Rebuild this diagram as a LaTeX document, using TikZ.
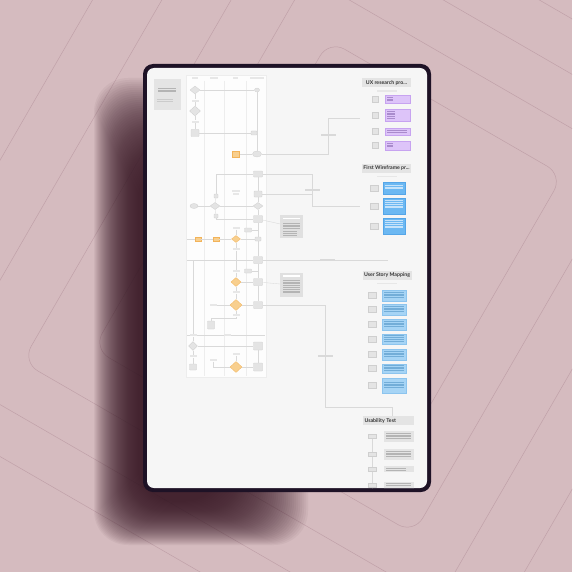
\documentclass[tikz,border=0pt]{standalone}
\usepackage{fontspec}
\setmainfont{Lato}
\usetikzlibrary{shapes.geometric}
\definecolor{bgc}{HTML}{D5BBBF}
\definecolor{bgl}{HTML}{C0A1A8}
\definecolor{shadc}{HTML}{3A1A27}
\definecolor{framec}{HTML}{1E1226}
\definecolor{screenc}{HTML}{F6F6F6}
\definecolor{panelc}{HTML}{FDFDFD}
\definecolor{lanec}{HTML}{EDEDED}
\definecolor{connc}{HTML}{D9D9D9}
\definecolor{gfill}{HTML}{E4E4E4}
\definecolor{gline}{HTML}{CFCFCF}
\definecolor{notef}{HTML}{E0E0E0}
\definecolor{ofill}{HTML}{F8CF8E}
\definecolor{oline}{HTML}{F2B35A}
\definecolor{labc}{HTML}{E7E7E7}
\definecolor{purf}{HTML}{DDC4F9}
\definecolor{purl}{HTML}{C7A3F0}
\definecolor{purt}{HTML}{A98BCC}
\definecolor{bluef}{HTML}{6CB8F2}
\definecolor{bluel}{HTML}{55A6E8}
\definecolor{bluet}{HTML}{C6E3FA}
\definecolor{lbluef}{HTML}{A6D4F5}
\definecolor{lbluel}{HTML}{8CC4EE}
\definecolor{lbluet}{HTML}{72ADD8}
\definecolor{hdrf}{HTML}{E4E4E4}
\definecolor{txtc}{HTML}{B4B4B4}
\newcommand{\tlines}[5]{\foreach \k in {1,...,#4}{\draw[#5] (#1,{#2+(\k-1)*1.8}) -- ++(#3,0);}}
\begin{document}
\begin{tikzpicture}[x=1pt,y=-1pt,
  gbox/.style={draw=gline, fill=gfill, line width=0.3pt, inner sep=0pt, rounded corners=0.6pt, minimum width=8pt, minimum height=6pt},
  gdia/.style={diamond, draw=gline, fill=gfill, line width=0.3pt, inner sep=0pt, minimum width=10pt, minimum height=8pt},
  gell/.style={ellipse, draw=gline, fill=gfill, line width=0.3pt, inner sep=0pt, minimum width=8pt, minimum height=5pt},
  obox/.style={draw=oline, fill=ofill, line width=0.3pt, inner sep=0pt, minimum width=6pt, minimum height=4.5pt},
  odia/.style={diamond, draw=oline, fill=ofill, line width=0.3pt, inner sep=0pt, minimum width=11pt, minimum height=10pt},
  lab/.style={fill=labc, inner sep=0pt, minimum width=7pt, minimum height=2.6pt},
  conn/.style={draw=connc, line width=0.35pt},
  lanel/.style={draw=lanec, line width=0.3pt},
  notebox/.style={fill=notef, inner sep=0pt, minimum width=23pt, minimum height=23pt},
  hdr/.style={fill=hdrf, inner sep=0pt, minimum height=9pt, minimum width=49pt, font=\fontsize{5.2}{6}\selectfont\bfseries, text=black!80},
  sbox/.style={fill=gfill, draw=gline, line width=0.25pt, inner sep=0pt, minimum width=7pt, minimum height=6pt},
  tb/.style={draw=txtc, line width=0.5pt},
  purbox/.style={fill=purf, draw=purl, line width=0.3pt, inner sep=0pt, minimum width=25pt},
  bluebox/.style={fill=bluef, draw=bluel, line width=0.3pt, inner sep=0pt, minimum width=22pt},
  lbluebox/.style={fill=lbluef, draw=lbluel, line width=0.3pt, inner sep=0pt, minimum width=24pt},
  ubox/.style={fill=gfill, inner sep=0pt, minimum width=30pt},
]
\useasboundingbox (0,0) rectangle (572,572);
\fill[bgc] (0,0) rectangle (572,572);
% background rotated outlines
\begin{scope}
\clip (0,0) rectangle (572,572);
\foreach \hm/\hn in {135/170, 185/215, 240/262, 300/310, 360/355}{
  \draw[bgl, line width=0.5pt, rounded corners=18, rotate around={-30:(361,255)}] ({361-\hm},{255-\hn}) rectangle ({361+\hm},{255+\hn});
}
\end{scope}
% shadow (soft, layered)
\foreach \i in {0,...,44}{
  \fill[shadc, opacity=0.048, rounded corners=34] ({94+\i*1.0},{78+\i*2.0}) rectangle ({308-\i*2.0},{545-\i*1.0});
}
% tablet
\fill[framec, rounded corners=10] (143,64) rectangle (431,492);
\fill[screenc, rounded corners=7] (147,68) rectangle (427,488);
\begin{scope}
\clip[rounded corners=7] (147,68) rectangle (427,488);
% intro note
\node[fill=gfill, inner sep=0pt, minimum width=27pt, minimum height=31pt] (intro) at (167,95) {};
\tlines{158}{88}{18}{3}{tb}
\tlines{157}{99}{16}{2}{tb, draw=txtc!70}
% flow panel
\fill[panelc, draw=lanec, line width=0.3pt] (186,75) rectangle (266,377);
\node[lab, minimum width=6pt] (hd1) at (195,78) {};
\node[lab, minimum width=8pt] (hd2) at (214,78) {};
\node[lab, minimum width=5pt] (hd3) at (235,78) {};
\node[lab, minimum width=14pt] (hd4) at (257,78) {};
\foreach \xx in {204,224,246}{\draw[lanel] (\xx,81) -- (\xx,376);}
% lane 1 top
\node[gdia] (a1) at (195,90) {};
\node[lab] (a1l) at (195,101) {};
\node[gdia, minimum width=11pt, minimum height=10pt] (a2) at (195,111) {};
\node[lab] (a2l) at (195,122) {};
\node[gbox, minimum height=7pt] (a3) at (195,133) {};
\node[gell, minimum width=5pt, minimum height=4pt] (d1) at (257,90) {};
\node[gbox, minimum width=6pt, minimum height=4pt] (d2) at (254,133) {};
\node[gell, minimum width=9pt, minimum height=6pt] (d3) at (257,154) {};
\node[obox, minimum width=7pt, minimum height=6pt] (o1) at (236,154) {};
\draw[conn] (a1) -- (d1);
\draw[conn] (a1) -- (a1l) -- (a2) -- (a2l) -- (a3);
\draw[conn] (a3) -- (d2);
\draw[conn] (d1) -- (d3);
\draw[conn] (o1) -- (d3);
\coordinate (ux1) at (328,154);
\coordinate (ux2) at (328,118);
\coordinate (uxin) at (360,118);
\draw[conn] (d3) -- (ux1) -- (ux2) -- (uxin);
\node[lab, minimum width=15pt, minimum height=1.2pt, fill=txtc!50] (uxl) at (328,135) {};
% middle rows
\node[gbox, minimum width=9pt] (e1) at (258,174) {};
\coordinate (e1l) at (216,174);
\draw[conn] (e1l) -- (e1);
\node[gbox, minimum width=4pt, minimum height=4pt] (f2t) at (216,196) {};
\draw[conn] (e1l) -- (f2t);
\node[gbox] (e2) at (258,194) {};
\node[lab, minimum width=8pt] (e2l) at (236,191) {};
\node[lab, minimum width=6pt] (e2m) at (236,194) {};
\node[gell] (f1) at (194,206) {};
\node[gdia, minimum height=7pt] (f2) at (215,206) {};
\node[gdia, minimum height=7pt] (f3) at (258,206) {};
\draw[conn] (f1) -- (f2) -- (f3);
\draw[conn] (f2t) -- (f2);
\node[gbox, minimum width=4pt, minimum height=4pt] (f2b) at (216,216) {};
\draw[conn] (f2) -- (f2b);
\node[gbox, minimum width=9pt, minimum height=7pt] (g1) at (258,219) {};
\draw[conn] (f2b) |- (g1);
\draw[conn] (e1) -- (e2) -- (f3) -- (g1);
\coordinate (fw1) at (312,174);
\coordinate (fw2) at (312,206);
\coordinate (fwin) at (360,206);
\coordinate (fw3) at (312,194);
\draw[conn] (e1) -- (fw1) -- (fw2) -- (fwin);
\draw[conn] (e2) -- (fw3);
\node[lab, minimum width=15pt, minimum height=1.2pt, fill=txtc!50] (fwl) at (312,190) {};
% note 1
\node[notebox] (n1) at (291.5,226.5) {};
\draw[white, line width=1.2pt] (283,218.5) -- (300,218.5);
\tlines{283}{223}{17}{4}{tb}
\tlines{283}{231.5}{14}{3}{tb}
\draw[conn] (g1) -- (n1);
% row 228 - 249
\node[lab] (r228) at (236,228) {};
\node[gbox, minimum width=7pt, minimum height=4pt] (s228) at (248,230) {};
\node[obox] (h1) at (198,239) {};
\node[obox] (h2) at (216,239) {};
\node[odia, minimum width=9pt, minimum height=7pt] (h3) at (236,239) {};
\node[gbox, minimum width=6pt, minimum height=4pt] (h4) at (258,239) {};
\coordinate (hl) at (187,239);
\draw[conn] (hl) -- (h1) -- (h2) -- (h3) -- (h4);
\draw[conn] (r228) -- (h3);
\draw[conn] (s228) -| (h4);
\draw[conn] (g1) -- (h4);
\node[lab] (r249) at (236,249) {};
\draw[conn] (h3) -- (r249);
% row 260
\node[gbox, minimum width=9pt, minimum height=7pt] (i1) at (258,260) {};
\coordinate (il) at (187,260);
\coordinate (ir) at (388,260);
\draw[conn] (il) -- (i1);
\draw[conn] (h4) -- (i1);
\draw[conn] (i1) -- (ir);
\node[lab, minimum width=15pt, minimum height=1.2pt, fill=txtc!50] (irl) at (327,260) {};
% row 271 - 292
\node[lab] (r271) at (236,271) {};
\node[gbox, minimum width=7pt, minimum height=4pt] (s271) at (248,271) {};
\draw[conn] (r249) -- (r271);
\node[odia, minimum width=10pt, minimum height=9pt] (j1) at (236,282) {};
\node[gbox, minimum width=9pt, minimum height=7pt] (j2) at (258,282) {};
\draw[conn] (r271) -- (j1) -- (j2);
\draw[conn] (s271) -| (j2);
\draw[conn] (i1) -- (j2);
\node[notebox, minimum height=24pt] (n2) at (291.5,285) {};
\draw[white, line width=1.2pt] (283,276) -- (300,276);
\tlines{283}{280}{17}{8}{tb}
\draw[conn] (j2) -- (n2);
\node[lab] (r292) at (236,292) {};
\draw[conn] (j1) -- (r292);
% row 305
\node[lab] (k0) at (213,305) {};
\node[odia, minimum width=12pt, minimum height=11pt] (k1) at (236,305) {};
\node[gbox, minimum width=9pt, minimum height=7pt] (k2) at (258,305) {};
\draw[conn] (k0) -- (k1) -- (k2);
\draw[conn] (r292) -- (k1);
\draw[conn] (j2) -- (k2);
\coordinate (us1) at (325,305);
\coordinate (us2) at (325,407);
\coordinate (us3) at (392,407);
\coordinate (us4) at (392,416);
\draw[conn] (k2) -- (us1) -- (us2) -- (us3) -- (us4);
\node[lab, minimum width=15pt, minimum height=1.2pt, fill=txtc!50] (usl) at (325,356) {};
% rows 315 - 367
\node[lab] (r315) at (236,315) {};
\draw[conn] (k1) -- (r315);
\node[gbox, minimum width=7pt, minimum height=8pt] (q1) at (211,325) {};
\coordinate (c318) at (211,318);
\draw[conn] (r315) |- (c318) -- (q1);
\coordinate (t1) at (187,335);
\coordinate (t2) at (265,335);
\draw[conn] (t1) -- (t2);
\node[lab] (tl1) at (193,335) {};
\node[lab] (tl2) at (227,335) {};
\coordinate (v1) at (193,260);
\draw[conn] (v1) -- (tl1);
\node[gdia, minimum width=9pt, minimum height=9pt] (l1) at (193,346) {};
\node[gbox, minimum width=9pt, minimum height=8pt] (l2) at (258,346) {};
\draw[conn] (tl1) -- (l1);
\draw[conn] (l1) -- (l2);
\node[lab] (r351) at (236,354) {};
\node[lab] (l1l) at (193,356) {};
\node[lab] (mlab) at (213,360) {};
\node[gbox, minimum width=7pt, minimum height=6pt] (m1) at (193,367) {};
\node[odia, minimum width=12pt, minimum height=11pt] (m2) at (236,367) {};
\node[gbox, minimum width=9pt, minimum height=8pt] (m3) at (258,367) {};
\draw[conn] (l1) -- (l1l) -- (m1);
\draw[conn] (mlab) |- (m2);
\draw[conn] (r351) -- (m2);
\draw[conn] (m2) -- (m3);
\draw[conn] (l2) -- (m3);
% ===== UX research group
\node[hdr] (uxh) at (386.5,83) {UX research pro...};
\node[lab, minimum width=20pt, minimum height=1.2pt] (uxsub) at (386.5,91) {};
\foreach \yy/\hh [count=\n] in {99/8, 115/12, 131.5/7, 145.5/9}{
  \node[sbox, minimum width=6pt] (uxs\n) at (375,\yy) {};
  \node[purbox, minimum height=\hh pt] (uxp\n) at (397.5,\yy) {};
}
\tlines{387}{97}{6}{3}{draw=purt, line width=0.45pt}
\tlines{387}{111}{8}{5}{draw=purt, line width=0.45pt}
\tlines{387}{130.5}{20}{2}{draw=purt, line width=0.45pt}
\tlines{387}{143}{6}{3}{draw=purt, line width=0.45pt}
% ===== First Wireframe group
\node[hdr] (fwh) at (386.5,168.5) {First Wireframe pr...};
\node[lab, minimum width=20pt, minimum height=1.2pt] (fwsub) at (386.5,176.5) {};
\foreach \yy/\hh [count=\n] in {188/12, 206/16, 226/16}{
  \node[sbox, minimum width=8pt] (fws\n) at (374,\yy) {};
  \node[bluebox, minimum height=\hh pt] (fwb\n) at (394,\yy) {};
}
\tlines{385}{185}{18}{3}{draw=bluet, line width=0.45pt}
\tlines{385}{200.5}{18}{5}{draw=bluet, line width=0.45pt}
\tlines{385}{220.5}{18}{5}{draw=bluet, line width=0.45pt}
% ===== User Story Mapping group
\node[hdr] (smh) at (387,275.5) {User Story Mapping};
\node[lab, minimum width=20pt, minimum height=1.2pt] (smsub) at (387,283.5) {};
\foreach \yy/\hh [count=\n] in {295.5/11, 309.5/11, 324.5/11, 339/10, 354.5/11, 368.5/9, 385.5/15}{
  \node[sbox, minimum width=8pt] (sms\n) at (372,\yy) {};
  \node[lbluebox, minimum height=\hh pt] (smb\n) at (394,\yy) {};
  \tlines{384}{\yy-3.5}{20}{4}{draw=lbluet, line width=0.4pt}
}
% ===== Usability Test group
\node[hdr, minimum width=51pt, text width=47pt, align=left] (uth) at (388,420.5) {Usability Test};
\coordinate (ut0) at (372,437);
\coordinate (ut9) at (372,492);
\draw[conn] (ut0) -- (ut9);
\foreach \yy/\hh [count=\n] in {436.5/11, 454.5/11, 469/6, 485.5/7}{
  \node[sbox, minimum width=8pt, minimum height=4pt] (uts\n) at (372,\yy) {};
  \node[ubox, minimum height=\hh pt] (utb\n) at (399,\yy) {};
}
\tlines{386}{433}{25}{4}{tb}
\tlines{386}{451}{25}{4}{tb}
\tlines{386}{468}{20}{2}{tb}
\tlines{386}{483}{25}{2}{tb}
\end{scope}
\end{tikzpicture}
\end{document}
